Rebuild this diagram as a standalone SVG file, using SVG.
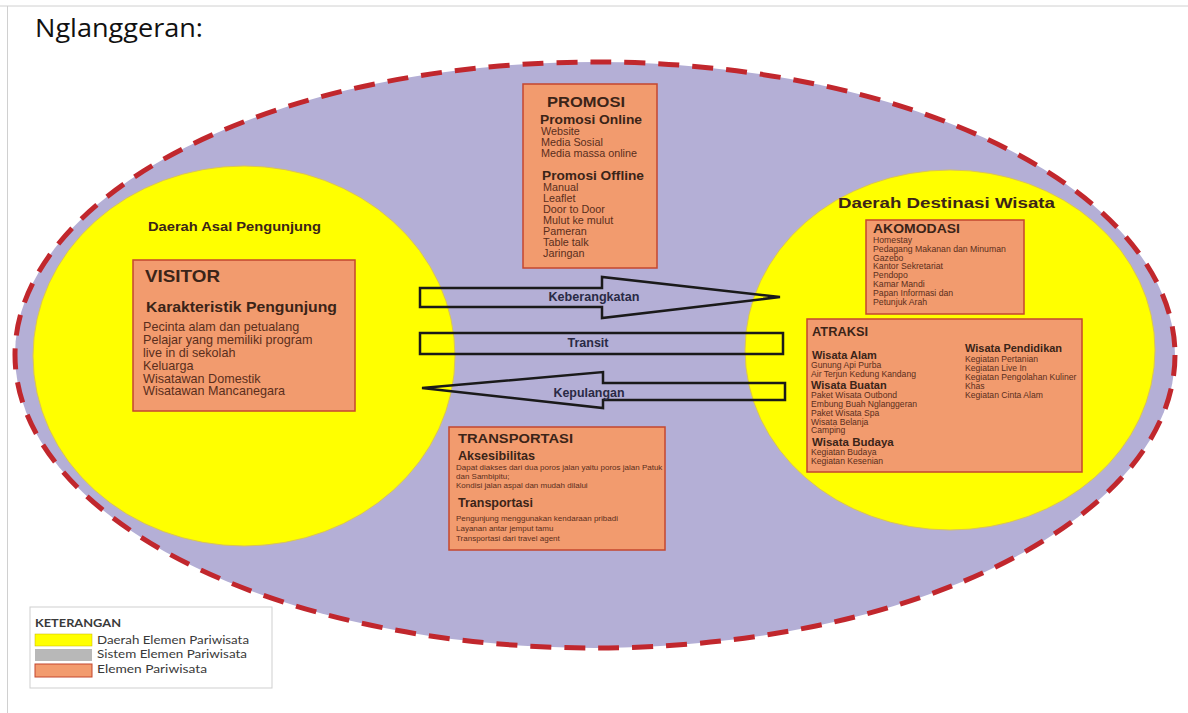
<svg xmlns="http://www.w3.org/2000/svg" width="1188" height="713" viewBox="0 0 1188 713">
<style>
.box{fill:#f29b6e;stroke:#c4472f;stroke-width:1.5}
.h{font-family:"Liberation Sans",Arial,sans-serif;font-weight:bold;fill:#3b2418}
.t{font-family:"Liberation Sans",Arial,sans-serif;fill:#5a2e1c}
.arrow{fill:none;stroke:#1a1a1a;stroke-width:2.5;stroke-linejoin:miter}
.lbl{font-family:"Liberation Sans",Arial,sans-serif;font-weight:bold;fill:#2a2a45;font-size:12px;text-anchor:middle}
.lg{font-family:Lato,"Open Sans",sans-serif;fill:#3a3a3a;font-size:12px}
</style>
<rect width="1188" height="713" fill="#ffffff"/>
<line x1="0" y1="6" x2="1188" y2="6" stroke="#d0d0d0" stroke-width="1"/>
<line x1="7.5" y1="6" x2="7.5" y2="713" stroke="#d0d0d0" stroke-width="1"/>
<text x="35" y="37" font-family="'Open Sans','Noto Sans',sans-serif" font-size="25" fill="#111" textLength="168" lengthAdjust="spacingAndGlyphs">Nglanggeran:</text>

<g id="system">
<ellipse cx="595" cy="355" rx="580" ry="293" fill="#b4afd6" stroke="#c1272d" stroke-width="5" stroke-dasharray="21 13"/>
</g>
<g id="origin-region">
<ellipse cx="244" cy="356" rx="211" ry="190" fill="#ffff00" stroke="#d8c25a" stroke-width="1"/>
<text class="h" x="148" y="231" font-size="13" textLength="173" lengthAdjust="spacingAndGlyphs">Daerah Asal Pengunjung</text>
</g>
<g id="destination-region">
<ellipse cx="950" cy="350" rx="205" ry="180" fill="#ffff00" stroke="#d8c25a" stroke-width="1"/>
<text class="h" x="838" y="208" font-size="14.5" textLength="217" lengthAdjust="spacingAndGlyphs">Daerah Destinasi Wisata</text>
</g>

<g id="connectors">
<polygon class="arrow" points="420,288 602,288 602,277 780,297 602,318 602,307 420,307"/>
<text class="lbl" x="594" y="301" textLength="91" lengthAdjust="spacingAndGlyphs">Keberangkatan</text>
<rect class="arrow" x="420" y="333" width="363" height="21"/>
<text class="lbl" x="588" y="347" textLength="41" lengthAdjust="spacingAndGlyphs">Transit</text>
<polygon class="arrow" points="422,388 603,372 603,383 785,383 785,400 603,400 603,408"/>
<text class="lbl" x="589" y="397" textLength="71" lengthAdjust="spacingAndGlyphs">Kepulangan</text>
</g>

<g id="promosi">
<rect class="box" x="523" y="84" width="134" height="184"/>
<text class="h" x="547" y="107" font-size="14.5" textLength="78" lengthAdjust="spacingAndGlyphs">PROMOSI</text>
<text class="h" x="540" y="124" font-size="12.5" textLength="102" lengthAdjust="spacingAndGlyphs">Promosi Online</text>
<text class="t" font-size="10.8"><tspan x="541" y="135">Website</tspan><tspan x="541" y="146">Media Sosial</tspan><tspan x="541" y="157">Media massa online</tspan></text>
<text class="h" x="542" y="180" font-size="12.5" textLength="102" lengthAdjust="spacingAndGlyphs">Promosi Offline</text>
<text class="t" font-size="10.8"><tspan x="543" y="191">Manual</tspan><tspan x="543" y="202">Leaflet</tspan><tspan x="543" y="213">Door to Door</tspan><tspan x="543" y="224">Mulut ke mulut</tspan><tspan x="543" y="235">Pameran</tspan><tspan x="543" y="246">Table talk</tspan><tspan x="543" y="257">Jaringan</tspan></text>
</g>

<g id="visitor">
<rect class="box" x="133" y="260" width="222" height="151"/>
<text class="h" x="145" y="282" font-size="16.5" textLength="75" lengthAdjust="spacingAndGlyphs">VISITOR</text>
<text class="h" x="146" y="312" font-size="14" textLength="191" lengthAdjust="spacingAndGlyphs">Karakteristik Pengunjung</text>
<text class="t" font-size="12.6"><tspan x="143" y="331">Pecinta alam dan petualang</tspan><tspan x="143" y="344">Pelajar yang memiliki program</tspan><tspan x="143" y="357">live in di sekolah</tspan><tspan x="143" y="370">Keluarga</tspan><tspan x="143" y="383">Wisatawan Domestik</tspan><tspan x="143" y="395">Wisatawan Mancanegara</tspan></text>
</g>

<g id="akomodasi">
<rect class="box" x="866" y="220" width="158" height="94"/>
<text class="h" x="873" y="233" font-size="12.5" textLength="87" lengthAdjust="spacingAndGlyphs">AKOMODASI</text>
<text class="t" font-size="8.7"><tspan x="873" y="243">Homestay</tspan><tspan x="873" y="252">Pedagang Makanan dan Minuman</tspan><tspan x="873" y="260.5">Gazebo</tspan><tspan x="873" y="269">Kantor Sekretariat</tspan><tspan x="873" y="278">Pendopo</tspan><tspan x="873" y="287">Kamar Mandi</tspan><tspan x="873" y="296">Papan Informasi dan</tspan><tspan x="873" y="305">Petunjuk Arah</tspan></text>
</g>

<g id="atraksi">
<rect class="box" x="807" y="319" width="275" height="153"/>
<text class="h" x="812" y="336" font-size="12.5" textLength="56" lengthAdjust="spacingAndGlyphs">ATRAKSI</text>
<text class="h" x="812" y="359" font-size="11">Wisata Alam</text>
<text class="t" font-size="8.6"><tspan x="811" y="368">Gunung Api Purba</tspan><tspan x="811" y="377">Air Terjun Kedung Kandang</tspan></text>
<text class="h" x="811" y="389" font-size="11">Wisata Buatan</text>
<text class="t" font-size="8.6"><tspan x="811" y="398">Paket Wisata Outbond</tspan><tspan x="811" y="407">Embung Buah Nglanggeran</tspan><tspan x="811" y="416">Paket Wisata Spa</tspan><tspan x="811" y="424.5">Wisata Belanja</tspan><tspan x="811" y="433">Camping</tspan></text>
<text class="h" x="812" y="446" font-size="11.5">Wisata Budaya</text>
<text class="t" font-size="8.6"><tspan x="811" y="455">Kegiatan Budaya</tspan><tspan x="811" y="464">Kegiatan Kesenian</tspan></text>
<text class="h" x="965" y="352" font-size="11">Wisata Pendidikan</text>
<text class="t" font-size="8.6"><tspan x="965" y="362">Kegiatan  Pertanian</tspan><tspan x="965" y="371">Kegiatan Live In</tspan><tspan x="965" y="380">Kegiatan Pengolahan Kuliner</tspan><tspan x="965" y="389">Khas</tspan><tspan x="965" y="398">Kegiatan Cinta Alam</tspan></text>
</g>

<g id="transportasi">
<rect class="box" x="449" y="427" width="216" height="123"/>
<text class="h" x="458" y="443" font-size="13.5" textLength="115" lengthAdjust="spacingAndGlyphs">TRANSPORTASI</text>
<text class="h" x="458" y="460" font-size="12" textLength="77" lengthAdjust="spacingAndGlyphs">Aksesibilitas</text>
<text class="t" font-size="8"><tspan x="456" y="470">Dapat diakses dari dua poros jalan yaitu poros jalan Patuk</tspan><tspan x="456" y="479">dan Sambipitu;</tspan><tspan x="456" y="488">Kondisi jalan aspal dan mudah dilalui</tspan></text>
<text class="h" x="458" y="507" font-size="12" textLength="75" lengthAdjust="spacingAndGlyphs">Transportasi</text>
<text class="t" font-size="8"><tspan x="456" y="521">Pengunjung menggunakan kendaraan pribadi</tspan><tspan x="456" y="531">Layanan antar jemput tamu</tspan><tspan x="456" y="541">Transportasi dari travel agent</tspan></text>
</g>

<g id="legend">
<rect x="30" y="607" width="242" height="81" fill="#ffffff" stroke="#cfcfcf" stroke-width="1"/>
<text class="lg" x="35" y="627" font-weight="bold" fill="#222" textLength="86" lengthAdjust="spacingAndGlyphs">KETERANGAN</text>
<rect x="35" y="634" width="57" height="12" fill="#ffff00" stroke="#c8b400" stroke-width="0.5"/>
<rect x="35" y="649" width="57" height="12" fill="#b8b8b8"/>
<rect x="35" y="664" width="57" height="13" fill="#f29b6e" stroke="#c4472f" stroke-width="1"/>
<text class="lg" x="97" y="643.5" textLength="152" lengthAdjust="spacingAndGlyphs">Daerah Elemen Pariwisata</text>
<text class="lg" x="97" y="658" textLength="150" lengthAdjust="spacingAndGlyphs">Sistem Elemen Pariwisata</text>
<text class="lg" x="97" y="672.5" textLength="110" lengthAdjust="spacingAndGlyphs">Elemen Pariwisata</text>
</g>
</svg>
